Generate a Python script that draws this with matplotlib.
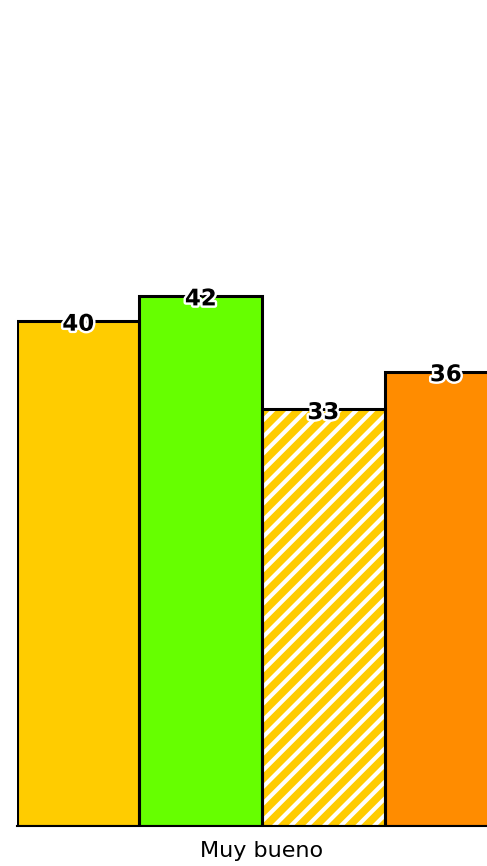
import matplotlib
matplotlib.use("Agg")
import matplotlib.pyplot as plt
import matplotlib.patheffects as pe

# data
category = ["Muy bueno"]
values = [40, 42, 33, 36]
colors = ["#FFCC00", "#66FF00", "#FFCC00", "#FF8C00"]
hatches = [None, None, "//", None]

plt.rcParams["hatch.linewidth"] = 3.0

fig = plt.figure(figsize=(4.87, 8.66), dpi=100)
ax = fig.add_axes([17/487, 40/866, 470/487, 826/866])

width = 0.2
offsets = [-0.3, -0.1, 0.1, 0.3]
for v, c, h, off in zip(values, colors, hatches, offsets):
    # fill (with white hatch where needed), then black outline on top
    ax.bar(off, v, width=width, color=c, edgecolor="white", linewidth=0,
           hatch=h, zorder=2)
    ax.bar(off, v, width=width, fill=False, edgecolor="black", linewidth=2.2,
           zorder=3)
    ax.text(off, v - 0.25, str(v), ha="center", va="center", fontsize=16.5,
            fontweight="bold", color="black", zorder=5,
            path_effects=[pe.withStroke(linewidth=3.5, foreground="white")])

ax.set_xlim(-0.4, -0.4 + 470/612.5)
ax.set_ylim(0, 826/12.625)
ax.set_yticks([])
ax.set_xticks([0])
ax.set_xticklabels(category, fontsize=16)
ax.tick_params(axis="x", length=0, pad=11)
for s in ["left", "top", "right"]:
    ax.spines[s].set_visible(False)
ax.spines["bottom"].set_linewidth(1.5)
ax.spines["bottom"].set_color("black")

fig.savefig("out.png", dpi=100)
